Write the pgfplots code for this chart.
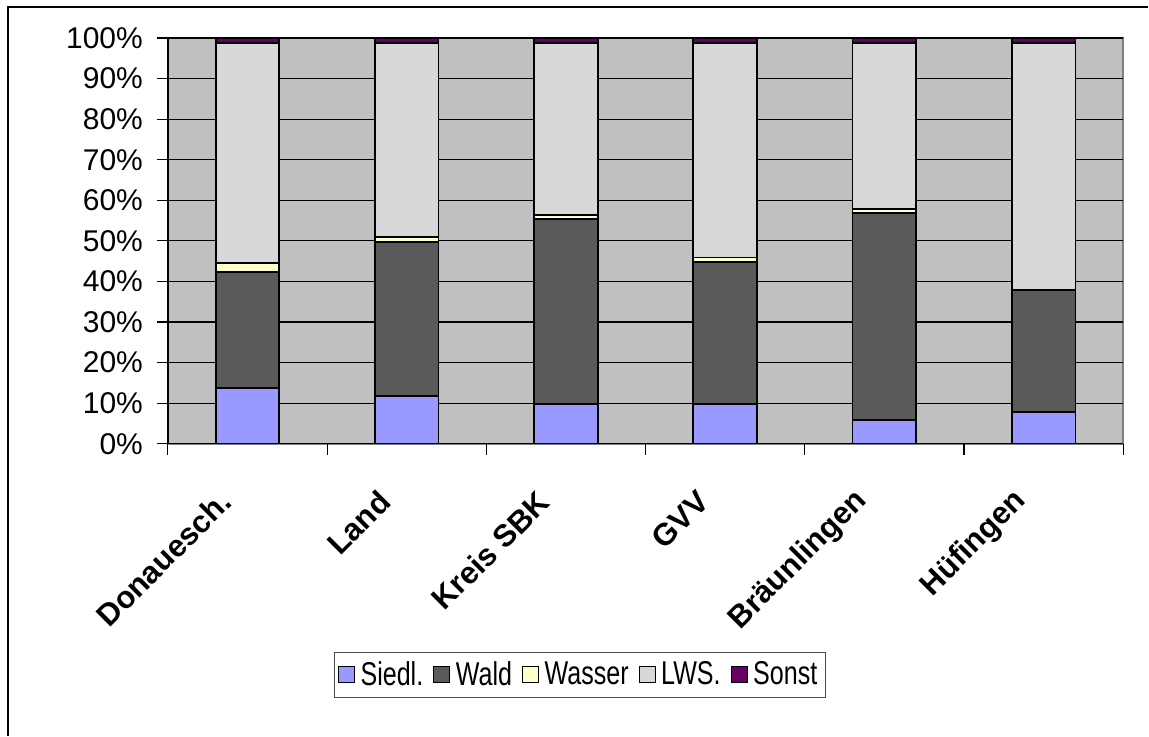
\documentclass[border=0pt]{standalone}
\usepackage{fontspec}
\setmainfont{Liberation Sans}
\newfontfamily\legfont[FakeStretch=0.76]{Liberation Sans}
\usepackage{pgfplots}
\usepackage{pgfplotstable}
\pgfplotsset{compat=1.18}
\definecolor{siedl}{HTML}{9999FF}
\definecolor{wald}{HTML}{5A5A5A}
\definecolor{wasser}{HTML}{FFFFCC}
\definecolor{lws}{HTML}{D8D8D8}
\definecolor{sonst}{HTML}{660066}
\definecolor{plotbg}{HTML}{C0C0C0}
\pgfplotstableread{
x siedl wald wasser lws sonst
0 13.7 28.6 2.2 54.3 1.2
1 11.8 38.0 1.1 47.9 1.2
2 9.8 45.5 1.0 42.5 1.2
3 9.8 34.9 1.2 52.9 1.2
4 5.9 50.9 1.0 41.0 1.2
5 7.8 30.0 0.0 61.0 1.2
}\datatable
\begin{document}
\begin{tikzpicture}
\begin{axis}[
  set layers,
  scale only axis, width=478pt, height=203pt,
  ybar stacked, bar width=0.4,
  xmin=-0.5, xmax=5.5, ymin=0, ymax=100,
  axis background/.style={fill=plotbg, draw=gray, line width=1pt},
  axis lines=left,
  axis line style={-, black, line width=0.7pt},
  tick align=outside,
  major tick length=5.5pt,
  tick style={black, line width=0.6pt},
  ytick={0,10,...,100},
  yticklabels={0\%,10\%,20\%,30\%,40\%,50\%,60\%,70\%,80\%,90\%,100\%},
  yticklabel style={font=\fontsize{15}{18}\selectfont, xshift=-3.5pt},
  ymajorgrids,
  grid style={black, line width=0.6pt},
  xtick={-0.5,0.5,...,5.5},
  xticklabels={,,,,,,},
  extra x ticks={0,1,2,3,4,5},
  extra x tick labels={Donauesch.,Land,Kreis SBK,GVV,Bräunlingen,Hüfingen},
  extra x tick style={major tick length=0pt, grid=none,
    tick label style={font=\bfseries\fontsize{15.5}{18}\selectfont, xshift=-8.5pt, yshift=-24pt, rotate=45, anchor=east}},
  every axis plot/.append style={draw=black, line width=0.9pt},
  legend columns=5,
  legend style={at={(0.431,-0.569)}, anchor=center, draw=black!70, line width=0.5pt,
    font=\legfont\fontsize{16.5}{19}\selectfont,
    /tikz/every even column/.append style={column sep=3pt},
    inner ysep=2.5pt, inner xsep=2pt},
  legend image code/.code={\draw[#1,draw=black,line width=0.6pt] (0pt,-4pt) rectangle (8pt,4pt); \path[draw=none,fill=none] (0pt,0pt) -- (9pt,0pt);},
]
\addplot[fill=siedl] table[x=x, y=siedl] {\datatable};
\addplot[fill=wald] table[x=x, y=wald] {\datatable};
\addplot[fill=wasser] table[x=x, y=wasser] {\datatable};
\addplot[fill=lws] table[x=x, y=lws] {\datatable};
\addplot[fill=sonst] table[x=x, y=sonst] {\datatable};
\legend{Siedl.,Wald,Wasser,LWS.,Sonst}
\end{axis}
\draw[black, line width=0.75pt] (-80pt,-146pt) -- (-80pt,218.5pt) -- (490.5pt,218.5pt);
\path (-84pt,-146pt) rectangle (490.5pt,222pt);
\end{tikzpicture}
\end{document}
